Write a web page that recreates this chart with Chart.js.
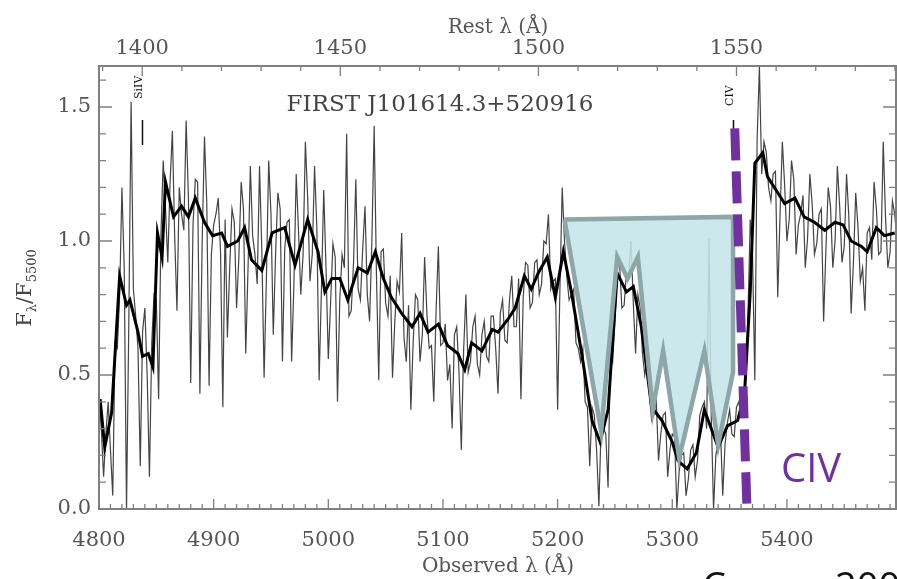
<!DOCTYPE html>
<html>
<head>
<meta charset="utf-8">
<script src="https://cdn.jsdelivr.net/npm/chart.js@4.4.0/dist/chart.umd.min.js"></script>
<style>
  html, body { margin: 0; padding: 0; background: #fff; }
  #wrap { position: relative; width: 897px; height: 579px; overflow: hidden; }
</style>
</head>
<body>
<div id="wrap"><canvas id="spec" width="897" height="579"></canvas></div>
<script>
// redshift factor linking observed and rest wavelength axes
const zPlus1 = 3.4555;

const obsTicks = [4800, 4900, 5000, 5100, 5200, 5300, 5400];
const restTicks = [1400, 1450, 1500, 1550];
const fluxTicks = [0, 0.5, 1.0, 1.5];

// raw spectrum (observed wavelength, normalised flux)
const noisyWave = [
  4800, 4802, 4804, 4806, 4808, 4810, 4812, 4814, 4816, 4818, 4820, 4822, 4824, 4826, 4828, 4830, 4832, 4834, 4836, 4838,
  4840, 4842, 4844, 4846, 4848, 4850, 4852, 4854, 4856, 4858, 4860, 4862, 4864, 4866, 4868, 4870, 4872, 4874, 4876, 4878,
  4880, 4882, 4884, 4886, 4888, 4890, 4892, 4894, 4896, 4898, 4900, 4902, 4904, 4906, 4908, 4910, 4912, 4914, 4916, 4918,
  4920, 4922, 4924, 4926, 4928, 4930, 4932, 4934, 4936, 4938, 4940, 4942, 4944, 4946, 4948, 4950, 4952, 4954, 4956, 4958,
  4960, 4962, 4964, 4966, 4968, 4970, 4972, 4974, 4976, 4978, 4980, 4982, 4984, 4986, 4988, 4990, 4992, 4994, 4996, 4998,
  5000, 5002, 5004, 5006, 5008, 5010, 5012, 5014, 5016, 5018, 5020, 5022, 5024, 5026, 5028, 5030, 5032, 5034, 5036, 5038,
  5040, 5042, 5044, 5046, 5048, 5050, 5052, 5054, 5056, 5058, 5060, 5062, 5064, 5066, 5068, 5070, 5072, 5074, 5076, 5078,
  5080, 5082, 5084, 5086, 5088, 5090, 5092, 5094, 5096, 5098, 5100, 5102, 5104, 5106, 5108, 5110, 5112, 5114, 5116, 5118,
  5120, 5122, 5124, 5126, 5128, 5130, 5132, 5134, 5136, 5138, 5140, 5142, 5144, 5146, 5148, 5150, 5152, 5154, 5156, 5158,
  5160, 5162, 5164, 5166, 5168, 5170, 5172, 5174, 5176, 5178, 5180, 5182, 5184, 5186, 5188, 5190, 5192, 5194, 5196, 5198,
  5200, 5202, 5204, 5206, 5208, 5210, 5212, 5214, 5216, 5218, 5220, 5222, 5224, 5226, 5228, 5230, 5232, 5234, 5236, 5238,
  5240, 5242, 5244, 5246, 5248, 5250, 5252, 5254, 5256, 5258, 5260, 5262, 5264, 5266, 5268, 5270, 5272, 5274, 5276, 5278,
  5280, 5282, 5284, 5286, 5288, 5290, 5292, 5294, 5296, 5298, 5300, 5302, 5304, 5306, 5308, 5310, 5312, 5314, 5316, 5318,
  5320, 5322, 5324, 5326, 5328, 5330, 5332, 5334, 5336, 5338, 5340, 5342, 5344, 5346, 5348, 5350, 5352, 5354, 5356, 5358,
  5360, 5362, 5364, 5366, 5368, 5370, 5372, 5374, 5376, 5378, 5380, 5382, 5384, 5386, 5388, 5390, 5392, 5394, 5396, 5398,
  5400, 5402, 5404, 5406, 5408, 5410, 5412, 5414, 5416, 5418, 5420, 5422, 5424, 5426, 5428, 5430, 5432, 5434, 5436, 5438,
  5440, 5442, 5444, 5446, 5448, 5450, 5452, 5454, 5456, 5458, 5460, 5462, 5464, 5466, 5468, 5470, 5472, 5474, 5476, 5478,
  5480, 5482, 5484, 5486, 5488, 5490, 5492, 5494, 5496
];
const noisyFlux = [
  0.42, 0.30, 0.12, 0.28, 0.40, 0.22, 0.05, 0.62, 0.60, 0.80, 1.20, 0.90, 0.00, 0.70, 1.52, 0.82, 0.72, 0.60, 0.16, 0.66,
  0.75, 0.50, 0.12, 0.62, 0.80, 0.78, 0.41, 1.02, 1.30, 1.12, 0.92, 1.22, 1.41, 1.02, 0.74, 1.20, 1.10, 1.04, 1.45, 1.16,
  0.47, 1.06, 1.23, 1.22, 0.43, 1.00, 1.39, 1.14, 0.46, 0.95, 1.06, 1.10, 1.16, 0.96, 0.38, 1.08, 0.64, 0.90, 1.12, 1.07,
  0.75, 0.94, 1.22, 1.12, 0.58, 0.90, 1.28, 1.02, 0.95, 0.84, 1.28, 0.97, 0.49, 0.86, 1.30, 1.10, 0.65, 0.95, 1.18, 1.12,
  0.55, 0.97, 1.07, 1.08, 0.55, 0.84, 1.25, 1.04, 0.80, 0.95, 1.37, 1.16, 0.85, 0.95, 1.28, 1.05, 0.48, 0.82, 1.19, 0.90,
  0.56, 0.77, 0.99, 0.94, 0.40, 0.78, 0.95, 0.90, 1.40, 0.72, 0.74, 0.92, 1.23, 0.82, 0.78, 0.97, 1.13, 0.80, 0.70, 1.00,
  1.43, 0.87, 0.48, 0.96, 0.97, 0.77, 0.72, 0.87, 0.49, 0.70, 0.85, 0.81, 1.03, 0.64, 0.55, 0.76, 0.37, 0.62, 0.80, 0.78,
  0.55, 0.65, 0.94, 0.73, 0.60, 0.61, 0.40, 0.74, 0.98, 0.61, 0.62, 0.69, 0.48, 0.54, 0.30, 0.65, 0.68, 0.51, 0.22, 0.59,
  0.80, 0.51, 0.55, 0.68, 0.72, 0.54, 0.50, 0.65, 0.70, 0.57, 0.55, 0.72, 0.72, 0.60, 0.43, 0.73, 0.78, 0.63, 0.62, 0.78,
  0.87, 0.68, 0.68, 0.86, 0.41, 0.79, 0.92, 0.91, 0.75, 0.77, 0.92, 0.93, 0.80, 0.84, 1.00, 0.99, 1.10, 0.82, 0.85, 0.86,
  0.37, 0.82, 1.20, 1.00, 0.87, 0.78, 0.80, 0.82, 0.62, 0.60, 0.55, 0.60, 0.40, 0.38, 0.16, 0.38, 0.35, 0.22, 0.01, 0.32,
  0.30, 0.28, 0.08, 0.58, 0.55, 0.70, 0.90, 0.92, 0.75, 0.76, 0.88, 0.87, 1.00, 0.77, 0.58, 0.80, 0.75, 0.58, 0.50, 0.56,
  0.43, 0.33, 0.35, 0.41, 0.18, 0.28, 0.35, 0.36, 0.12, 0.22, 0.28, 0.27, 0.00, 0.14, 0.20, 0.21, 0.05, 0.11, 0.22, 0.24,
  0.12, 0.18, 0.35, 0.38, 0.40, 0.30, 1.01, 0.35, 0.00, 0.20, 0.25, 0.30, 0.05, 0.24, 0.32, 0.37, 0.28, 0.27, 0.38, 0.40,
  0.35, 0.36, 0.48, 0.72, 1.08, 0.95, 0.48, 1.38, 1.65, 1.25, 1.37, 1.33, 1.20, 1.15, 1.25, 1.26, 0.79, 1.10, 1.37, 1.21,
  1.00, 1.08, 1.30, 1.23, 0.95, 1.06, 1.10, 1.17, 0.90, 1.01, 1.25, 1.14, 0.95, 0.99, 1.10, 1.12, 0.70, 0.97, 1.20, 1.13,
  0.90, 1.00, 1.28, 1.13, 0.92, 0.98, 1.25, 1.09, 0.73, 0.92, 1.18, 1.05, 0.85, 0.90, 0.74, 1.03, 1.05, 0.93, 1.22, 1.12,
  0.95, 0.96, 1.37, 1.09, 0.90, 0.96, 1.15, 1.10, 1.00
];

// smoothed spectrum
const smoothWave = [
  4801, 4805, 4811, 4818, 4824, 4827, 4834, 4838, 4843, 4847,
  4851, 4855, 4858, 4865, 4872, 4878, 4884, 4892, 4899, 4907,
  4912, 4921, 4927, 4933, 4942, 4951, 4962, 4971, 4982, 4991,
  4997, 5003, 5010, 5017, 5026, 5034, 5041, 5048, 5055, 5064,
  5073, 5080, 5087, 5096, 5104, 5113, 5119, 5125, 5134, 5143,
  5148, 5157, 5163, 5171, 5177, 5183, 5191, 5198, 5205, 5212,
  5221, 5230, 5237, 5244, 5252, 5260, 5266, 5273, 5282, 5291,
  5300, 5305, 5313, 5321, 5328, 5340, 5348, 5357, 5363, 5368,
  5372, 5379, 5383, 5392, 5398, 5407, 5415, 5424, 5433, 5442,
  5449, 5456, 5465, 5470, 5478, 5485, 5494
];
const smoothFlux = [
  0.41, 0.23, 0.36, 0.87, 0.76, 0.78, 0.66, 0.57, 0.58, 0.53,
  1.03, 0.94, 1.22, 1.09, 1.13, 1.09, 1.16, 1.07, 1.02, 1.03,
  0.98, 1.00, 1.05, 0.93, 0.89, 1.03, 1.05, 0.91, 1.08, 0.96,
  0.81, 0.86, 0.86, 0.78, 0.90, 0.88, 0.96, 0.86, 0.79, 0.73,
  0.68, 0.73, 0.66, 0.69, 0.61, 0.58, 0.52, 0.62, 0.59, 0.67,
  0.66, 0.71, 0.75, 0.87, 0.82, 0.88, 0.94, 0.79, 0.96, 0.81,
  0.58, 0.33, 0.25, 0.37, 0.88, 0.81, 0.83, 0.68, 0.38, 0.33,
  0.25, 0.18, 0.15, 0.21, 0.37, 0.23, 0.31, 0.33, 0.43, 0.81,
  1.29, 1.33, 1.24, 1.18, 1.14, 1.16, 1.09, 1.07, 1.04, 1.07,
  1.06, 1.00, 0.98, 0.96, 1.05, 1.02, 1.03
];

// shaded absorption trough outline
const troughWave = [5206, 5353, 5353, 5340, 5328, 5306, 5292, 5283, 5270, 5261, 5252, 5238, 5206];
const troughFlux = [1.08, 1.09, 0.51, 0.24, 0.59, 0.19, 0.59, 0.37, 0.94, 0.86, 0.94, 0.29, 1.08];

// dashed CIV marker
const civWave = [5354.5, 5365];
const civFlux = [1.42, 0.02];

// line identifications (rest wavelength)
const lineNames = ['SiIV', 'CIV'];
const lineRest = [1400, 1549];

const pts = (xs, ys) => xs.map((x, i) => ({ x: x, y: ys[i] }));

const serif = 'DejaVu Serif';
const textGray = '#555';

const framePlugin = {
  id: 'frame',
  beforeDatasetsDraw(chart) {
    const { ctx, scales } = chart;
    const x = scales.x;
    ctx.save();
    ctx.strokeStyle = '#111';
    ctx.fillStyle = '#111';
    ctx.lineWidth = 1.5;
    lineRest.forEach((r, i) => {
      const px = Math.round(x.getPixelForValue(r * zPlus1)) + 0.5;
      ctx.beginPath();
      ctx.moveTo(px, 120);
      ctx.lineTo(px, 145);
      ctx.stroke();
      ctx.save();
      ctx.translate(px - 1, i === 0 ? 99 : 106);
      ctx.rotate(-Math.PI / 2);
      ctx.font = '11px ' + serif;
      ctx.textAlign = 'left';
      ctx.textBaseline = 'alphabetic';
      ctx.fillText(lineNames[i], 0, 0);
      ctx.restore();
    });
    ctx.restore();
  },
  afterDatasetsDraw(chart) {
    const { ctx, chartArea: a, scales } = chart;
    ctx.save();
    ctx.strokeStyle = '#808080';
    ctx.lineWidth = 2;
    ctx.strokeRect(a.left, a.top, a.right - a.left - 1, a.bottom - a.top);
    ctx.lineWidth = 1.3;
    ctx.beginPath();
    // bottom edge: observed wavelength
    for (let v = 4800; v <= 5496; v += 10) {
      const px = scales.x.getPixelForValue(v);
      const len = v % 100 === 0 ? 10 : 5;
      ctx.moveTo(px, a.bottom);
      ctx.lineTo(px, a.bottom - len);
    }
    // top edge: rest wavelength
    for (let v = 1390; v <= 1590; v += 10) {
      const px = scales.x2.getPixelForValue(v);
      const len = v % 50 === 0 ? 10 : 5;
      ctx.moveTo(px, a.top);
      ctx.lineTo(px, a.top + len);
    }
    // left/right edges: flux
    for (let k = 0; k <= 16; k++) {
      const py = scales.y.getPixelForValue(k / 10);
      const len = k % 5 === 0 ? 13 : 7;
      ctx.moveTo(a.left, py);
      ctx.lineTo(a.left + len, py);
      ctx.moveTo(a.right - 1, py);
      ctx.lineTo(a.right - 1 - len, py);
    }
    ctx.stroke();
    ctx.restore();
  },
  afterDraw(chart) {
    const { ctx } = chart;
    ctx.save();
    ctx.fillStyle = '#444';
    ctx.textBaseline = 'alphabetic';
    ctx.textAlign = 'center';
    ctx.font = '23px ' + serif;
    ctx.fillText('FIRST J101614.3+520916', 440, 111);

    // y axis title F_lambda / F_5500, rotated
    ctx.save();
    ctx.translate(31, 288);
    ctx.rotate(-Math.PI / 2);
    const big = '21px ' + serif, small = '13px ' + serif;
    const parts = [['F', big, 0], ['λ', small, 5], ['/F', big, 0], ['5500', small, 5]];
    let w = 0;
    parts.forEach(p => { ctx.font = p[1]; w += ctx.measureText(p[0]).width; });
    let cx = -w / 2;
    ctx.textAlign = 'left';
    parts.forEach(p => {
      ctx.font = p[1];
      ctx.fillText(p[0], cx, p[2]);
      cx += ctx.measureText(p[0]).width;
    });
    ctx.restore();

    ctx.textAlign = 'left';
    ctx.fillStyle = '#7030A0';
    ctx.font = '40px "Open Sans"';
    ctx.fillText('CIV', 781, 482);

    ctx.fillStyle = '#111';
    ctx.font = '38px "Open Sans"';
    ctx.fillText('Carson', 702, 600);
    ctx.fillText('2009', 835, 600);
    ctx.restore();
  }
};

new Chart(document.getElementById('spec'), {
  type: 'scatter',
  data: {
    datasets: [
      {
        label: 'CIV',
        data: pts(civWave, civFlux),
        showLine: true,
        borderColor: '#7030A0',
        borderWidth: 9,
        borderDash: [32, 11],
        pointRadius: 0
      },
      {
        label: 'trough',
        data: pts(troughWave, troughFlux),
        showLine: true,
        borderColor: '#8da6a8',
        backgroundColor: 'rgba(198,229,233,0.88)',
        borderWidth: 4.5,
        borderJoinStyle: 'miter',
        fill: 'shape',
        pointRadius: 0
      },
      {
        label: 'smoothed',
        data: pts(smoothWave, smoothFlux),
        showLine: true,
        borderColor: '#000',
        borderWidth: 3,
        pointRadius: 0
      },
      {
        label: 'spectrum',
        data: pts(noisyWave, noisyFlux),
        showLine: true,
        borderColor: '#444',
        borderWidth: 1.2,
        pointRadius: 0
      }
    ]
  },
  options: {
    responsive: false,
    animation: false,
    devicePixelRatio: 1,
    layout: { padding: 0 },
    plugins: { legend: { display: false }, tooltip: { enabled: false } },
    scales: {
      x: {
        type: 'linear',
        position: 'bottom',
        min: 4800,
        max: 5496,
        grid: { display: false, drawTicks: false },
        border: { display: false },
        afterBuildTicks: s => { s.ticks = obsTicks.map(v => ({ value: v })); },
        afterFit: s => { s.height = 70; },
        ticks: {
          font: { family: serif, size: 21 },
          color: textGray,
          padding: 19,
          maxRotation: 0,
          autoSkip: false,
          callback: v => String(v)
        },
        title: {
          display: true,
          text: 'Observed λ (Å)',
          font: { family: serif, size: 20 },
          color: textGray,
          padding: { top: 0, bottom: 0 }
        }
      },
      x2: {
        type: 'linear',
        position: 'top',
        min: 4800 / zPlus1,
        max: 5496 / zPlus1,
        grid: { display: false, drawTicks: false },
        border: { display: false },
        afterBuildTicks: s => { s.ticks = restTicks.map(v => ({ value: v })); },
        afterFit: s => { s.height = 66; },
        ticks: {
          font: { family: serif, size: 21 },
          color: textGray,
          padding: 5,
          maxRotation: 0,
          autoSkip: false,
          callback: v => String(v)
        },
        title: {
          display: true,
          text: 'Rest λ (Å)',
          font: { family: serif, size: 20 },
          color: textGray,
          padding: { top: 16, bottom: 0 }
        }
      },
      y: {
        type: 'linear',
        min: 0,
        max: 1.653,
        grid: { display: false, drawTicks: false },
        border: { display: false },
        afterBuildTicks: s => { s.ticks = fluxTicks.map(v => ({ value: v })); },
        afterFit: s => { s.width = 99; },
        ticks: {
          font: { family: serif, size: 21 },
          color: textGray,
          padding: 8,
          callback: v => v.toFixed(1)
        }
      }
    }
  },
  plugins: [framePlugin]
});
</script>
</body>
</html>
